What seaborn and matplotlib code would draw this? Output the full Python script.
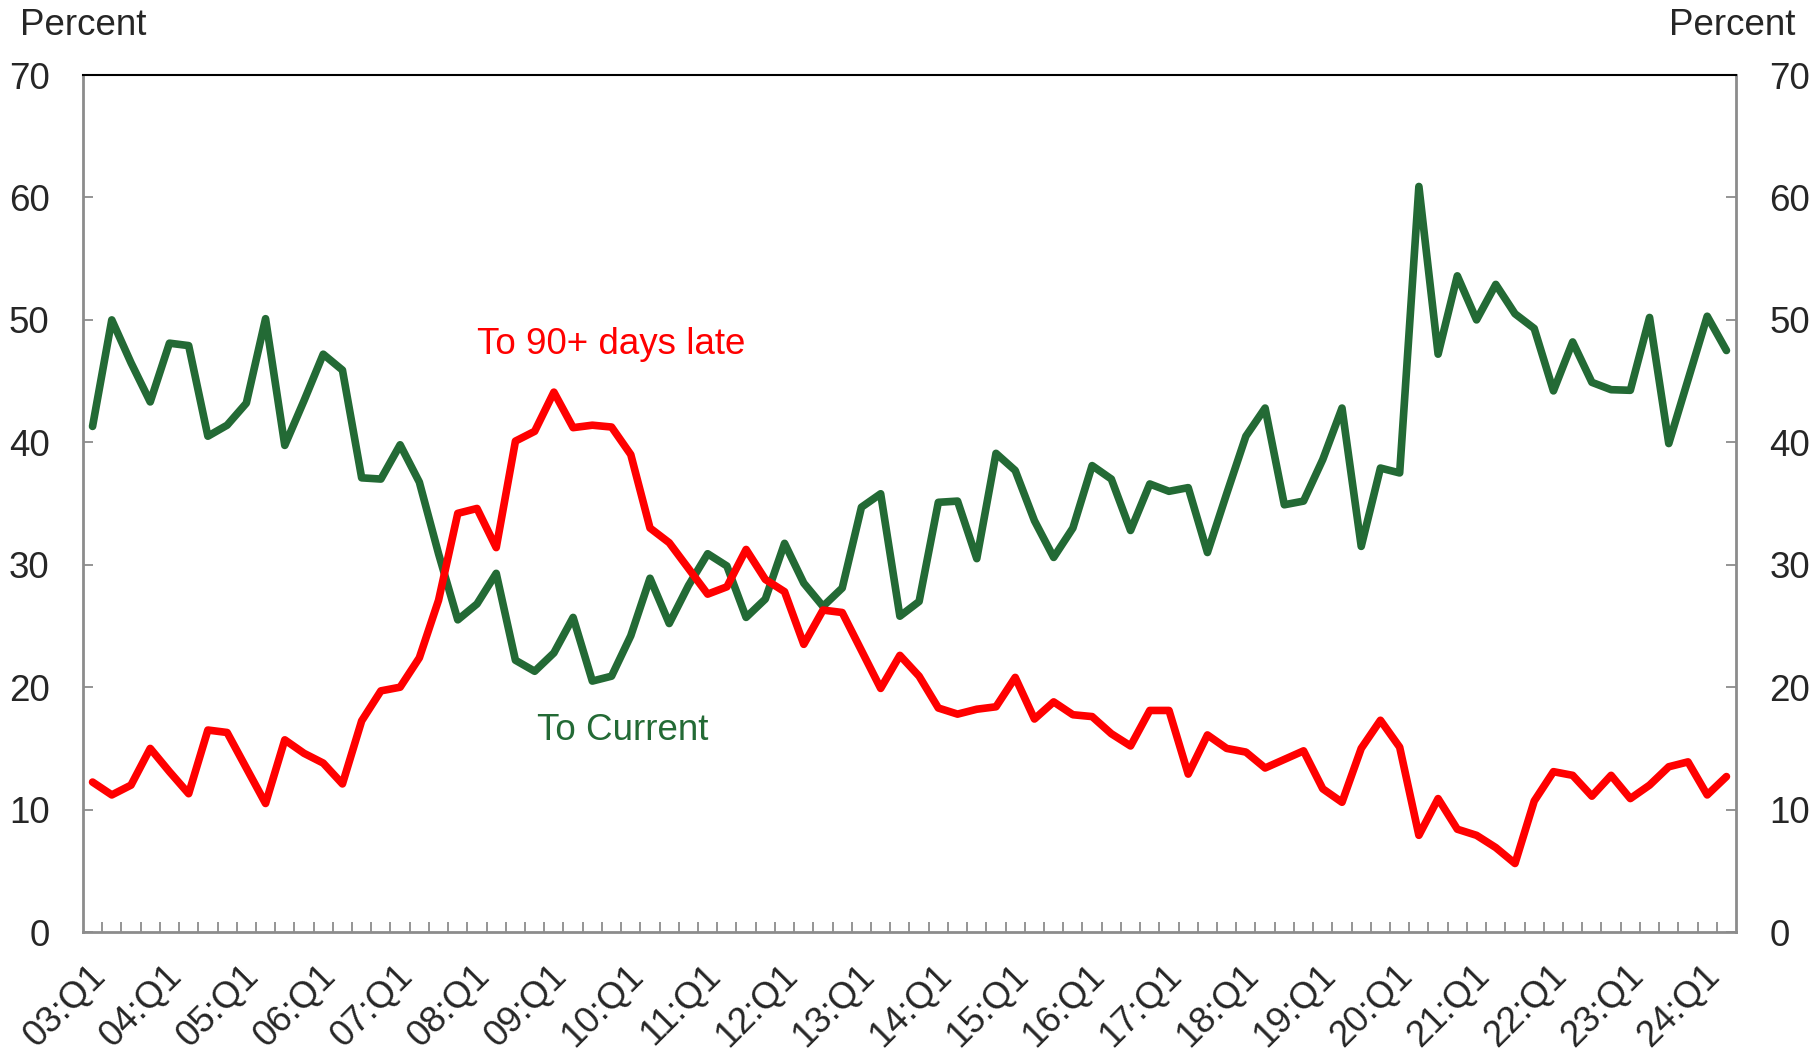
import numpy as np
import pandas as pd
import matplotlib
matplotlib.use("Agg")
import matplotlib.pyplot as plt
import matplotlib.transforms as mtransforms
import seaborn as sns

# quarters 03:Q1 .. 24:Q2
quarters = [f"{y:02d}:Q{q}" for y in range(3, 25) for q in range(1, 5)][:86]

to_current = [
    41.3, 50.0, 46.5, 43.3, 48.1, 47.9, 40.5, 41.4, 43.2, 50.1,
    39.75, 43.4, 47.2, 45.9, 37.1, 37.0, 39.8, 36.75, 30.9, 25.5,
    26.8, 29.3, 22.2, 21.3, 22.8, 25.7, 20.5, 20.9, 24.2, 28.9,
    25.2, 28.3, 30.9, 29.9, 25.7, 27.2, 31.75, 28.5, 26.6, 28.1,
    34.7, 35.8, 25.8, 27.0, 35.1, 35.2, 30.5, 39.1, 37.7, 33.6,
    30.6, 33.0, 38.1, 37.0, 32.8, 36.6, 36.0, 36.3, 31.0, 35.8,
    40.5, 42.8, 34.9, 35.2, 38.6, 42.8, 31.5, 37.9, 37.5, 60.9,
    47.2, 53.6, 50.0, 52.9, 50.5, 49.3, 44.2, 48.2, 44.9, 44.3,
    44.25, 50.2, 39.9, 45.1, 50.3, 47.5,
]

to_90_late = [
    12.25, 11.2, 12.0, 15.0, 13.1, 11.3, 16.5, 16.3, 13.4, 10.5,
    15.7, 14.6, 13.8, 12.1, 17.25, 19.7, 20.0, 22.4, 27.1, 34.2,
    34.6, 31.4, 40.1, 40.9, 44.1, 41.2, 41.4, 41.25, 39.0, 33.0,
    31.8, 29.7, 27.6, 28.2, 31.25, 28.8, 27.8, 23.5, 26.3, 26.1,
    23.0, 19.9, 22.6, 20.9, 18.3, 17.8, 18.2, 18.4, 20.8, 17.4,
    18.8, 17.75, 17.6, 16.2, 15.2, 18.1, 18.1, 12.9, 16.1, 15.0,
    14.7, 13.4, 14.1, 14.8, 11.7, 10.6, 15.0, 17.3, 15.1, 7.9,
    10.9, 8.4, 7.9, 6.9, 5.6, 10.7, 13.1, 12.8, 11.1, 12.8,
    10.9, 12.0, 13.5, 13.9, 11.2, 12.7,
]

GREEN = "#236A35"
RED = "#FF0000"
GRAY = "#8C8C8C"

sns.set_style("white")
plt.rcParams["font.family"] = ["Liberation Sans", "DejaVu Sans"]
FS = 26.5

df = pd.DataFrame({"idx": np.arange(len(quarters)),
                   "current": to_current, "late": to_90_late})

fig = plt.figure(figsize=(18.15, 10.54), dpi=100)
ax = fig.add_axes([0.0457, 0.1157, 0.9108, 0.8131])

sns.lineplot(data=df, x="idx", y="current", color=GREEN, lw=5.5, ax=ax)
sns.lineplot(data=df, x="idx", y="late", color=RED, lw=5.5, ax=ax)

ax.set_xlim(-0.5, len(quarters) - 0.5)
ax.set_ylim(0, 70)
ax.set_xlabel("")
ax.set_ylabel("")

# y axis both sides
ax.set_yticks(range(0, 71, 10))
ax.tick_params(axis="y", which="major", direction="in", length=7, width=1.3,
               color=GRAY, labelsize=FS, pad=24, left=True, right=True,
               labelleft=True, labelright=True)

# x labels every year, tick marks between quarters
ax.set_xticks(range(0, len(quarters), 4))
ax.set_xticklabels(quarters[::4], rotation=45, ha="right", fontsize=FS)
ax.set_xticks(np.arange(0.5, len(quarters) - 1, 1), minor=True)
ax.tick_params(axis="x", which="major", length=0, pad=19)
ax.tick_params(axis="x", which="minor", direction="in", length=7, width=1.3,
               color=GRAY, bottom=True)
shift = mtransforms.ScaledTranslation(0.2, 0, fig.dpi_scale_trans)
for lbl in ax.get_xticklabels():
    lbl.set_transform(lbl.get_transform() + shift)

for side in ["left", "right", "bottom"]:
    ax.spines[side].set_visible(True)
    ax.spines[side].set_color(GRAY)
    ax.spines[side].set_linewidth(2)
ax.spines["top"].set_visible(True)
ax.spines["top"].set_color("black")
ax.spines["top"].set_linewidth(1.5)

ax.text(27.0, 48.0, "To 90+ days late", color=RED, fontsize=FS,
        ha="center", va="center")
ax.text(27.6, 16.5, "To Current", color=GREEN, fontsize=FS,
        ha="center", va="center")

fig.text(0.011, 0.976, "Percent", fontsize=FS, ha="left", va="center")
fig.text(0.989, 0.976, "Percent", fontsize=FS, ha="right", va="center")

fig.savefig("out.png", dpi=100)
